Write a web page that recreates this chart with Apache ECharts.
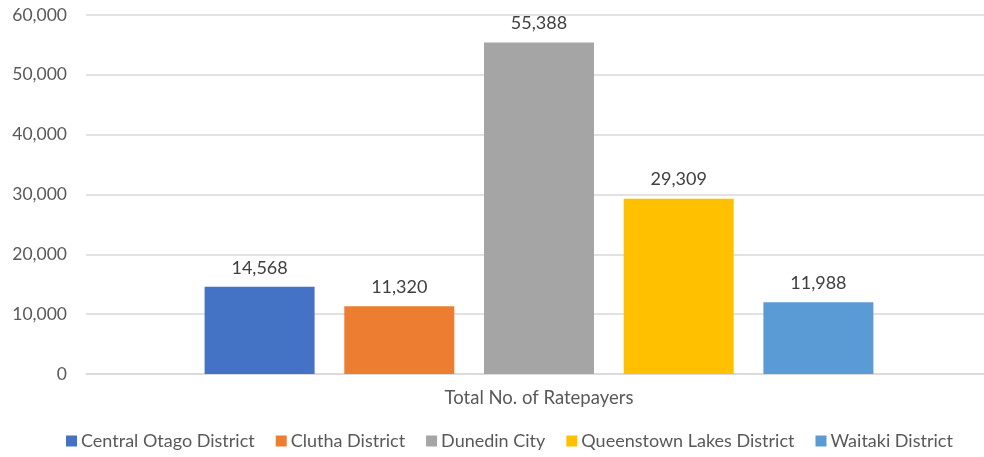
<!DOCTYPE html>
<html><head><meta charset="utf-8">
<script src="https://cdn.jsdelivr.net/npm/echarts@6/dist/echarts.min.js"></script>
<style>html,body{margin:0;padding:0;background:#fff}#c{width:984px;height:457px}</style>
</head><body><div id="c"></div>
<script>
const categories = ["Total No. of Ratepayers"];
const seriesNames = ["Central Otago District","Clutha District","Dunedin City","Queenstown Lakes District","Waitaki District"];
const seriesValues = [14568, 11320, 55388, 29309, 11988];
const colors = ["#4472C4","#ED7D31","#A5A5A5","#FFC000","#5B9BD5"];
const yTicks = [0,10000,20000,30000,40000,50000,60000];

const fmt = v => v.toLocaleString('en-US');
const font = 'Lato, "Open Sans", sans-serif';
const chart = echarts.init(document.getElementById('c'));
chart.setOption({
  animation:false,
  textStyle:{fontFamily:font},
  grid:{left:86,right:-8,top:15,bottom:83,outerBoundsMode:'none',containLabel:false},
  legend:{bottom:2,left:61,itemWidth:11,itemHeight:11,itemGap:21,icon:'rect',
    textStyle:{color:'#595959',fontSize:18,fontFamily:font,padding:[0,0,0,-1]},data:seriesNames},
  xAxis:{type:'category',data:categories,axisTick:{show:false},
    axisLine:{lineStyle:{color:'#d9d9d9',width:1.5}},
    axisLabel:{color:'#595959',fontSize:18.5,margin:15,fontFamily:font}},
  yAxis:{type:'value',min:yTicks[0],max:yTicks[yTicks.length-1],interval:10000,
    axisLabel:{color:'#595959',fontSize:17.5,margin:19,fontFamily:font,formatter:v=>fmt(v)},
    splitLine:{lineStyle:{color:'#d9d9d9',width:1.5}},axisLine:{show:false},axisTick:{show:false}},
  series: seriesNames.map((n,i)=>({
    name:n,type:'bar',data:[seriesValues[i]],barWidth:110,barGap:'27%',
    itemStyle:{color:colors[i]},
    label:{show:true,position:'top',distance:10,color:'#404040',fontSize:18,fontFamily:font,formatter:p=>fmt(p.value)}
  }))
});
</script></body></html>
